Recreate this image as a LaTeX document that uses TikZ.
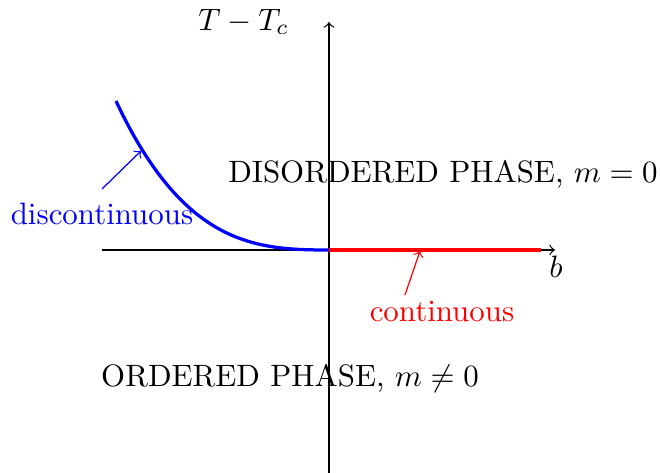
\documentclass[tikz,border=0pt]{standalone}
\usepackage{amssymb}
\begin{document}
\begin{tikzpicture}[x=0.3235pt,y=-0.3235pt,
  axis/.style={->},
  phaseline/.style={line width=1.05pt},
  pointer/.style={->}]
\useasboundingbox (0,0) rectangle (661,473);
\coordinate (O) at (329,250);
\coordinate (xl) at (102,250);
\coordinate (xr) at (555,250);
\coordinate (yb) at (329,473);
\coordinate (yt) at (329,22);
\draw[axis] (xl) -- (xr);
\draw[axis] (yb) -- (yt);
\node[anchor=east] (ylab) at (300,22) {$T-T_c$};
\node (xlab) at (556,267) {$b$};
\coordinate (c0) at (116,101);
\coordinate (rend) at (541,250);
\draw[phaseline,blue] (c0) .. controls (184,246) and (256,250) .. (O);
\draw[phaseline,red] (O) -- (rend);
\node[blue] (disc) at (102,214) {discontinuous};
\coordinate (dtip) at (141,151);
\coordinate (dstart) at (102,189);
\draw[pointer,blue] (dstart) -- (dtip);
\node[red] (cont) at (442,312) {continuous};
\coordinate (ctip) at (420,251);
\coordinate (cstart) at (405,295);
\draw[pointer,red] (cstart) -- (ctip);
\node (dis) at (443,174) {DISORDERED PHASE, $m=0$};
\node (ord) at (290,378) {ORDERED PHASE, $m\neq 0$};
\end{tikzpicture}
\end{document}
